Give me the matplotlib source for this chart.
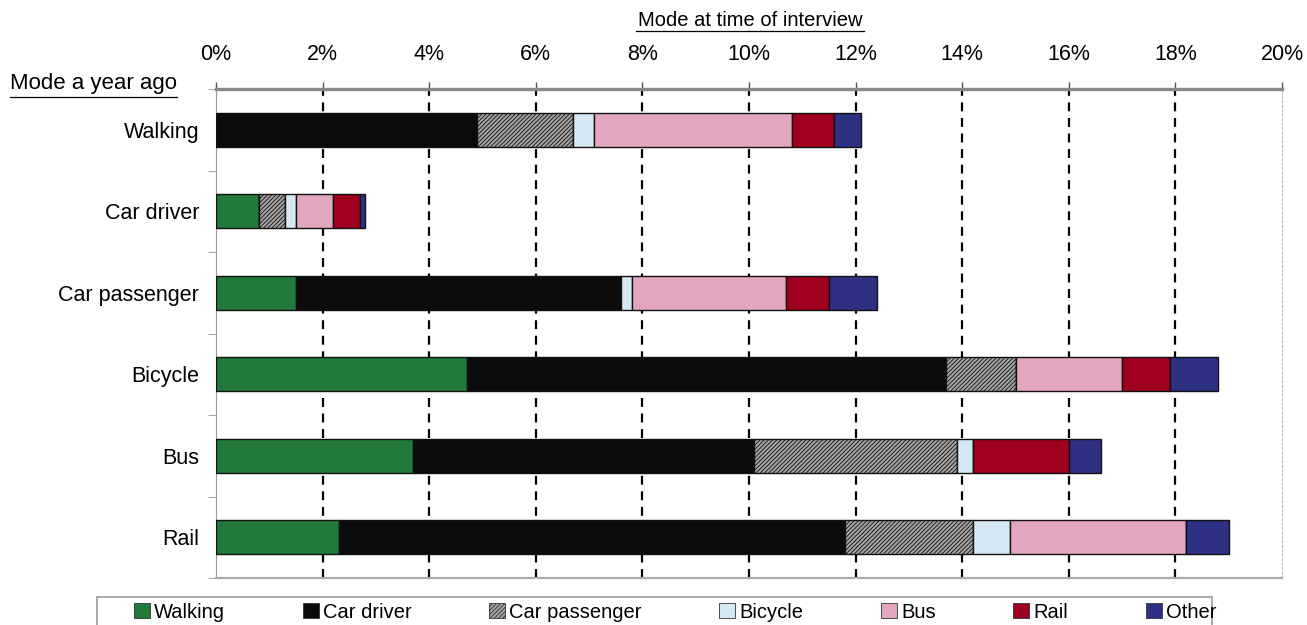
import numpy as np
import matplotlib.pyplot as plt
from matplotlib.patches import Patch, Rectangle

plt.rcParams['font.family'] = ['Liberation Sans', 'DejaVu Sans']
plt.rcParams['hatch.linewidth'] = 0.6

# mode a year ago (rows)
modes_before = ["Walking", "Car driver", "Car passenger", "Bicycle", "Bus", "Rail"]
# mode at time of interview (stack segments)
modes_now = ["Walking", "Car driver", "Car passenger", "Bicycle", "Bus", "Rail", "Other"]

# share (%) by current mode, one list per current mode, in row order
walking = [0.0, 0.8, 1.5, 4.7, 3.7, 2.3]
car_driver = [4.9, 0.0, 6.1, 9.0, 6.4, 9.5]
car_passenger = [1.8, 0.5, 0.0, 1.3, 3.8, 2.4]
bicycle = [0.4, 0.2, 0.2, 0.0, 0.3, 0.7]
bus = [3.7, 0.7, 2.9, 2.0, 0.0, 3.3]
rail = [0.8, 0.5, 0.8, 0.9, 1.8, 0.0]
other = [0.5, 0.1, 0.9, 0.9, 0.6, 0.8]

series = [walking, car_driver, car_passenger, bicycle, bus, rail, other]
colors = ["#217a3a", "#0b0b0b", "#a4a4a4", "#d6e8f4", "#e3a6bf", "#a00020", "#2e3083"]
hatches = [None, None, "////////", None, None, None, None]

W, H = 1307, 625
fig = plt.figure(figsize=(W / 100, H / 100), dpi=100)
ax = fig.add_axes([216 / W, 1 - 578 / H, (1282 - 216) / W, (578 - 89) / H])

y = np.arange(len(modes_before))
left = np.zeros(len(modes_before))
for vals, c, h in zip(series, colors, hatches):
    ax.barh(y, vals, left=left, height=0.42, color=c, edgecolor="#111111",
            linewidth=1.0, hatch=h, zorder=3)
    left += np.array(vals)

ax.set_xlim(0, 20)
ax.set_ylim(len(modes_before) - 0.5, -0.5)
ax.set_xticks(np.arange(0, 21, 2))
ax.set_xticklabels([f"{v}%" for v in range(0, 21, 2)], fontsize=15.5)
ax.xaxis.tick_top()
ax.tick_params(axis="x", length=5, width=1, pad=12, color="#555555")

ax.set_yticks(y)
ax.set_yticklabels(modes_before, fontsize=15.5)
ax.set_yticks(np.arange(-0.5, len(modes_before), 1), minor=True)
ax.tick_params(axis="y", which="major", length=0, pad=12)
ax.tick_params(axis="y", which="minor", length=6, color="#999999")

for xv in range(2, 20, 2):
    ax.axvline(xv, color="black", linestyle=(0, (4, 3)), linewidth=1.6, zorder=1)

ax.spines["top"].set_color("#888888")
ax.spines["top"].set_linewidth(2.4)
ax.spines["left"].set_color("#999999")
ax.spines["bottom"].set_color("#aaaaaa")
ax.spines["bottom"].set_linewidth(1.6)
ax.spines["right"].set_color("#bbbbbb")
ax.spines["right"].set_linestyle((0, (2, 2)))

fig.text(750 / W, 1 - 20 / H, "Mode at time of interview", ha="center",
         va="center", fontsize=14.5)
fig.add_artist(plt.Line2D([636 / W, 864 / W], [1 - 31 / H] * 2,
                          color="black", linewidth=0.9))
fig.text(10 / W, 1 - 84 / H, "Mode a year ago", ha="left", va="center",
         fontsize=16)
fig.add_artist(plt.Line2D([10 / W, 177 / W], [1 - 97 / H] * 2,
                          color="black", linewidth=0.9))

# legend box runs off the bottom edge
fig.add_artist(Rectangle((97 / W, -0.05), (1212 - 97) / W, 0.05 + 28 / H,
                         transform=fig.transFigure, facecolor="white",
                         edgecolor="#999999", linewidth=1.2))
handles = [Patch(facecolor=c, edgecolor="#333333", hatch=h, linewidth=0.6)
           for c, h in zip(colors, hatches)]
leg = fig.legend(handles, modes_now, loc="center left", ncol=7,
                 bbox_to_anchor=(126 / W, 1 - 612 / H), fontsize=14.5,
                 frameon=False, handlelength=0.8, handleheight=0.8,
                 handletextpad=0.2, columnspacing=3.85, borderaxespad=0)

fig.savefig("out.png", dpi=100)
